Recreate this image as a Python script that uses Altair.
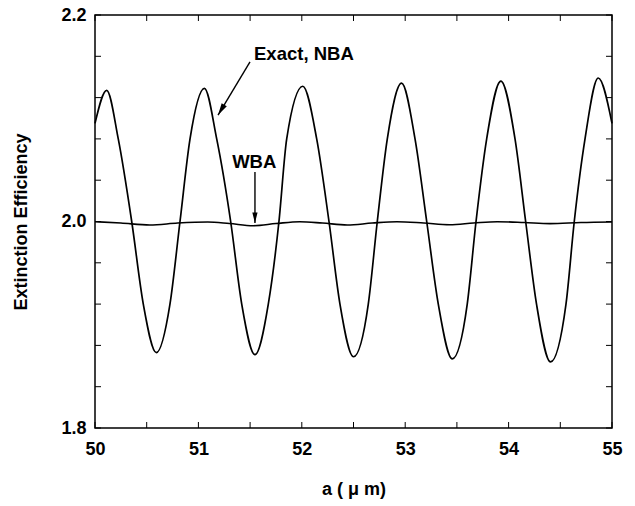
import altair as alt
import pandas as pd

# ---- data ----
nba_a = [50.00, 50.113, 50.225, 50.355, 50.467, 50.593, 50.725, 50.822, 50.919, 51.058,
         51.177, 51.312, 51.419, 51.547, 51.676, 51.779, 51.854, 52.010, 52.144, 52.263,
         52.369, 52.500, 52.643, 52.730, 52.827, 52.965, 53.095, 53.208, 53.320, 53.455,
         53.600, 53.685, 53.788, 53.925, 54.062, 54.165, 54.270, 54.405, 54.555, 54.635,
         54.739, 54.867, 55.00]
nba_q = [2.095, 2.127, 2.080, 2.000, 1.920, 1.873, 1.920, 2.000, 2.080, 2.129,
         2.080, 2.000, 1.920, 1.871, 1.920, 2.000, 2.080, 2.131, 2.080, 2.000,
         1.920, 1.869, 1.920, 2.000, 2.080, 2.134, 2.080, 2.000, 1.920, 1.867,
         1.920, 2.000, 2.080, 2.136, 2.080, 2.000, 1.920, 1.864, 1.920, 2.000,
         2.080, 2.139, 2.095]

wba_a = [50.00, 50.25, 50.53, 50.80, 51.09, 51.30, 51.53, 51.75, 51.98, 52.20, 52.44,
         52.68, 52.92, 53.18, 53.43, 53.66, 53.89, 54.15, 54.40, 54.70, 55.00]
wba_q = [1.9998, 1.9985, 1.9966, 1.9985, 1.9995, 1.9980, 1.9959, 1.9980, 1.9998, 1.9985,
         1.9966, 1.9985, 1.9998, 1.9985, 1.9969, 1.9985, 1.9998, 1.9990, 1.9979, 1.9990,
         1.9995]

x_tick_vals = [50.0, 50.5, 51.0, 51.5, 52.0, 52.5, 53.0, 53.5, 54.0, 54.5, 55.0]
y_tick_vals = [1.80, 1.84, 1.88, 1.92, 1.96, 2.00, 2.04, 2.08, 2.12, 2.16, 2.20]
x_label_vals = [50, 51, 52, 53, 54, 55]
y_label_vals = [1.8, 2.0, 2.2]

ann_text = ["Exact, NBA", "WBA"]
ann_a = [52.02, 51.54]
ann_q = [2.156, 2.0518]

# arrows: start -> tip
arr_a = [51.499, 51.19]
arr_q = [2.1545, 2.1031]
arr2_a = [51.547, 51.547]
arr2_q = [2.048, 1.9985]

# ---- layout ----
W, H = 517, 413
FONT = "Liberation Sans"
TL = 6

xs = alt.Scale(domain=[50, 55], nice=False, zero=False)
ys = alt.Scale(domain=[1.8, 2.2], nice=False, zero=False)

nba = pd.DataFrame({"a": nba_a, "q": nba_q})
wba = pd.DataFrame({"a": wba_a, "q": wba_q})
xt = pd.DataFrame({"a": x_tick_vals})
yt = pd.DataFrame({"q": y_tick_vals})
ann = pd.DataFrame({"a": ann_a, "q": ann_q, "label": ann_text})
arr1 = pd.DataFrame({"a": arr_a, "q": arr_q, "i": [0, 1]})
arr2 = pd.DataFrame({"a": arr2_a, "q": arr2_q, "i": [0, 1]})

x_axis = alt.Axis(values=x_label_vals, format="d", title="a ( μ m)", grid=False,
                  domain=False, ticks=False, labelFont=FONT, labelFontSize=18,
                  labelFontWeight="bold", labelColor="black", labelPadding=12,
                  labelFlush=False, titleFont=FONT, titleFontSize=18,
                  titleFontWeight="bold", titleColor="black", titlePadding=22)
y_axis = alt.Axis(values=y_label_vals, format=".1f", title="Extinction Efficiency",
                  grid=False, domain=False, ticks=False, labelFont=FONT,
                  labelFontSize=18, labelFontWeight="bold", labelColor="black",
                  labelPadding=9, labelFlush=False, titleFont=FONT, titleFontSize=18,
                  titleFontWeight="bold", titleColor="black", titlePadding=30)

X = alt.X("a:Q", scale=xs, axis=x_axis)
Y = alt.Y("q:Q", scale=ys, axis=y_axis)

nba_line = alt.Chart(nba).mark_line(color="black", strokeWidth=1.7,
                                    interpolate="monotone").encode(x=X, y=Y)
wba_line = alt.Chart(wba).mark_line(color="black", strokeWidth=1.6,
                                    interpolate="monotone").encode(x=X, y=Y)

bottom_ticks = alt.Chart(xt).mark_rule(color="black", strokeWidth=1).encode(
    x=X, y=alt.value(H), y2=alt.value(H - TL))
top_ticks = alt.Chart(xt).mark_rule(color="black", strokeWidth=1).encode(
    x=X, y=alt.value(0), y2=alt.value(TL))
left_ticks = alt.Chart(yt).mark_rule(color="black", strokeWidth=1).encode(
    y=Y, x=alt.value(0), x2=alt.value(TL))
right_ticks = alt.Chart(yt).mark_rule(color="black", strokeWidth=1).encode(
    y=Y, x=alt.value(W), x2=alt.value(W - TL))

labels = alt.Chart(ann).mark_text(font=FONT, fontSize=18.5, fontWeight="bold",
                                  color="black", align="center",
                                  baseline="alphabetic").encode(
    x=X, y=Y, text="label:N")

arrow_path = "M0,0 L-0.5,2 L0.5,2 Z"

a1_line = alt.Chart(arr1).mark_line(color="black", strokeWidth=1.4).encode(
    x=X, y=Y, order="i:Q")
a1_head = alt.Chart(arr1.iloc[[1]]).mark_point(shape=arrow_path, size=144, filled=True,
                                               color="black", opacity=1,
                                               angle=211).encode(x=X, y=Y)
a2_line = alt.Chart(arr2).mark_line(color="black", strokeWidth=1.4).encode(
    x=X, y=Y, order="i:Q")
a2_head = alt.Chart(arr2.iloc[[1]]).mark_point(shape=arrow_path, size=110, filled=True,
                                               color="black", opacity=1,
                                               angle=180).encode(x=X, y=Y)

chart = alt.layer(
    nba_line, wba_line, bottom_ticks, top_ticks, left_ticks, right_ticks,
    labels, a1_line, a1_head, a2_line, a2_head,
).properties(
    width=W, height=H,
    autosize=alt.AutoSizeParams(type="none"),
    padding={"left": 95, "top": 15, "right": 23, "bottom": 78},
    background="white",
).configure_view(stroke="black", strokeWidth=1.5)

chart.save("out.html", embed_options={"renderer": "svg", "actions": False})
